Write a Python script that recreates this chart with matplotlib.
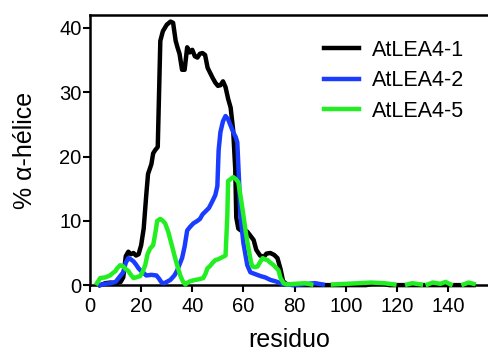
import numpy as np
import matplotlib
matplotlib.use("Agg")
import matplotlib.pyplot as plt

plt.rcParams['font.family'] = ['Liberation Sans', 'DejaVu Sans']

# AtLEA4-1
res_1 = [4, 6, 8, 10, 12, 13, 14, 15, 16, 17, 18, 19, 20, 21, 22, 22.7, 24, 24.7, 25.5, 26.5,
         27.5, 28.5, 30, 31.5, 32.5, 33.5, 34.2, 35, 36, 37, 38, 39, 40, 41, 42, 43, 44, 45,
         46, 47, 48, 49, 50, 51, 52, 53, 54, 55, 56, 56.8, 57.2, 58, 59, 60, 61.5, 62.5, 64,
         65, 66.5, 68, 69, 70.5, 72, 73.3, 74.5, 75.5, 77, 80, 90, 100, 108, 110, 113, 115,
         117, 130, 150]
helix_1 = [0, 0.3, 0.4, 0.3, 0.5, 1.2, 4.5, 5.2, 4.8, 5.0, 4.6, 4.8, 6.2, 8.8, 14, 17.3, 18.8,
           20.5, 21, 21.5, 38, 39.5, 40.5, 41, 40.8, 38, 37, 36, 33.5, 33.5, 37, 36.2, 36.6,
           35.6, 35.4, 36, 36.1, 35.8, 33.8, 33, 32.2, 31.5, 31, 31.1, 31.7, 30.8, 29, 27.6,
           24, 18, 10.5, 8.8, 8.5, 8.7, 8.3, 7.8, 7, 5.5, 4.6, 4.4, 4.9, 5, 4.7, 4.2, 2.5, 0.6,
           0.1, 0, 0, 0, 0, 0.2, 0.3, 0.2, 0, 0, 0]

# AtLEA4-2
res_2 = [4, 6, 8, 10, 11.8, 13, 14, 15, 16, 17, 18, 19, 20, 21, 22, 24, 26, 27, 28, 29, 30,
         31.4, 33, 34, 35, 36, 37, 38, 39, 40.4, 42, 43, 44, 45, 46.5, 47.8, 49, 49.8, 50.3,
         51, 52, 53, 54, 55, 56, 57, 57.6, 58.3, 58.8, 60, 61.5, 62.7, 64, 66.7, 68.5, 70.6,
         72.5, 74.5, 76, 80, 85, 88, 91]
helix_2 = [0, 0.2, 0.3, 0.5, 1.4, 2, 3.5, 4.2, 4.0, 3.7, 3.2, 2.6, 2.2, 1.9, 1.5, 1.6, 1.5,
           1.0, 0.4, 0.3, 0.5, 0.8, 1.5, 2.2, 3.2, 4.2, 6, 8.5, 9, 9.6, 10, 10.3, 11, 11.4, 12,
           13, 14, 15.4, 21, 23.8, 25.5, 26.3, 25.8, 24.8, 23.8, 23, 22.2, 16, 10.8, 6.5, 3.1,
           2.0, 1.8, 1.4, 1.2, 0.8, 0.6, 0.3, 0.1, 0, 0.2, 0.3, 0.1]

# AtLEA4-5 (nan = tramos sin datos)
res_5 = [2.7, 4, 6, 7.8, 9, 10, 10.6, 11.8, 13, 14, 15, 16, 17, 18, 19.6, 20.5, 21.6, 22.5,
         23.5, 24.7, 25.5, 26.3, 27.5, 28.5, 29.4, 30.6, 32, 33.3, 34.3, 35.3, 36.3, 37.3,
         38.2, 39.2, 41, 42.5, 44.3, 45.2, 45.9, 47, 47.8, 49, 50, 51, 52, 53, 53.7, 54, 55,
         56, 57, 58, 59, 60, 61, 62, 63, 63.5, 64.5, 65.5, 66.5, 67.5, 68.5, 69.4, 70.5, 71.8,
         73, 73.7, 74.5, 75.7, 77, 80, 84, 86.5, 90,
         95, 100, 105, 110, 115, 119, 121,
         124, 126, 129.4, 130.5,
         132, 134, 137, 139, 141, 143,
         146, 148, 150]
helix_5 = [0.3, 1.1, 1.2, 1.5, 1.9, 2.2, 2.6, 3.1, 2.9, 2.5, 2.2, 1.6, 1.1, 1.2, 1.4, 2.0, 3.1,
           4.8, 5.7, 6.2, 8, 10, 10.3, 10, 9.6, 8.3, 6.2, 4.2, 2.8, 1.5, 0.6, 0.1, 0.4, 0.6,
           0.8, 0.9, 1.1, 1.8, 2.6, 3, 3.4, 3.9, 4, 4.2, 4.4, 4.6, 10.8, 16.2, 16.5, 16.8, 16.5,
           16, 13.5, 10.8, 8, 5.7, 3.5, 2.9, 2.8, 2.9, 3.6, 4.2, 4.0, 3.9, 3.5, 3.1, 2.6, 2.3,
           1.1, 0.3, 0.1, 0.2, 0.3, 0.1, np.nan,
           0.1, 0.2, 0.3, 0.4, 0.3, 0.1, np.nan,
           0.1, 0.3, 0.1, np.nan,
           0.1, 0.4, 0.2, 0.5, 0.1, np.nan,
           0.1, 0.4, 0.2]

fig = plt.figure(figsize=(4.89, 3.52), dpi=100)
ax = fig.add_axes([0.184, 0.19, 0.816, 0.767])

ax.plot(res_1, helix_1, color='black', lw=3.2, label='AtLEA4-1', clip_on=False, zorder=3)
ax.plot(res_2, helix_2, color='#1a3cff', lw=3.2, label='AtLEA4-2', clip_on=False, zorder=3)
ax.plot(res_5, helix_5, color='#22ee22', lw=3.2, label='AtLEA4-5', clip_on=False, zorder=3)

ax.set_xlim(0, 156)
ax.set_ylim(0, 42)
ax.set_xticks(range(0, 141, 20))
ax.set_yticks(range(0, 41, 10))
ax.spines['right'].set_visible(False)
for s in ['left', 'bottom', 'top']:
    ax.spines[s].set_linewidth(1.8)
ax.tick_params(width=1.5, length=5, labelsize=14.5)
ax.tick_params(axis='x', pad=3.5)
ax.tick_params(axis='y', pad=1)

ax.set_xlabel('residuo', fontsize=18, labelpad=9)
ax.set_ylabel('% α-hélice', fontsize=18, labelpad=16)

ax.legend(loc='upper left', bbox_to_anchor=(0.56, 0.948), frameon=False, fontsize=15.5,
          handlelength=1.6, handletextpad=0.6, labelspacing=0.44, borderpad=0)

plt.savefig('out.png', dpi=100)
